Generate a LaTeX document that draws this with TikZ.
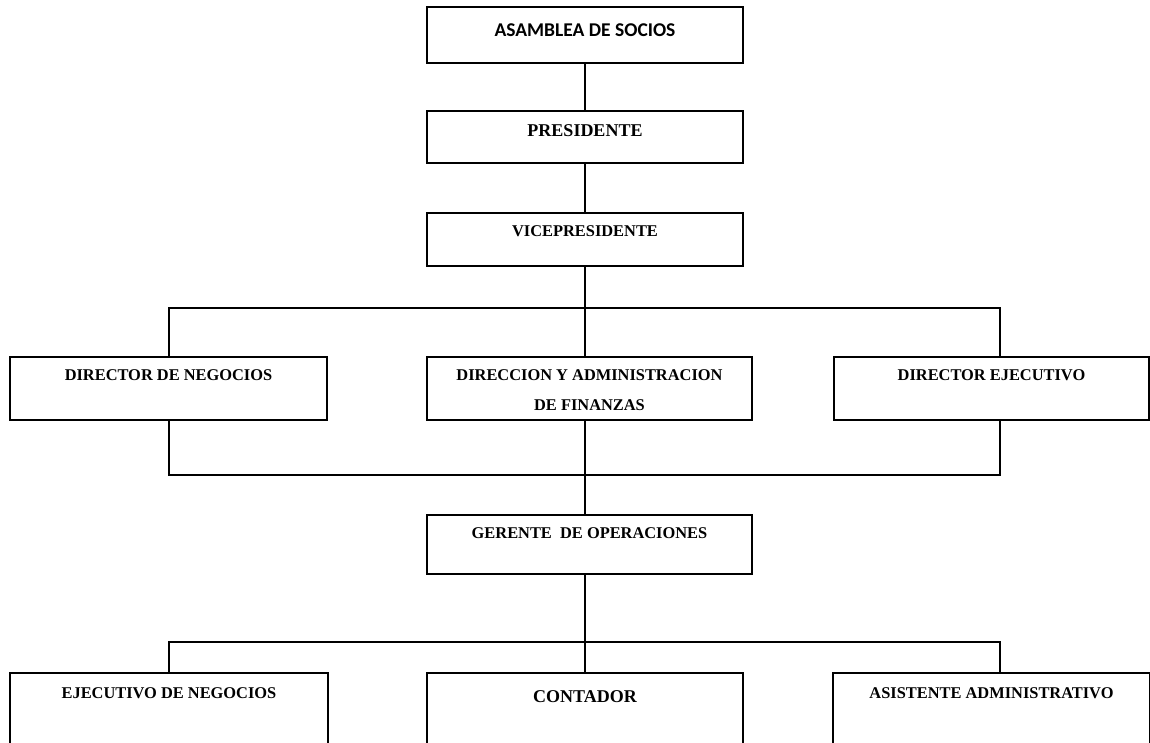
\documentclass[tikz,border=0pt]{standalone}
\usepackage{fontspec}
\setmainfont{Liberation Serif}
\newfontfamily\carlito{Carlito}
\usetikzlibrary{positioning,calc}

\tikzset{
  caja/.style={draw, line width=1.5pt, inner sep=0pt},
  titulo/.style={anchor=north, align=center, inner sep=0pt, font=\bfseries\fontsize{16.4}{30}\selectfont},
  linea/.style={line width=1.3pt}
}

\begin{document}
\begin{tikzpicture}[x=1pt,y=-1pt]
\useasboundingbox (0,0) rectangle (1150,742);

\node[caja, minimum width=316pt, minimum height=56pt,
  label={[titulo, yshift=-17pt, font=\carlito\bfseries\fontsize{19.5}{24}\selectfont]north:ASAMBLEA DE SOCIOS}] (asamblea) at (585,35) {};
\node[caja, minimum width=316pt, minimum height=52pt,
  label={[titulo, yshift=-14pt, font=\bfseries\fontsize{18}{24}\selectfont]north:PRESIDENTE}] (presidente) at (585,137) {};
\node[caja, minimum width=316pt, minimum height=53pt,
  label={[titulo, yshift=-13.5pt]north:VICEPRESIDENTE}] (vice) at (585,239.5) {};

\node[caja, minimum width=317pt, minimum height=63pt,
  label={[titulo, yshift=-13pt]north:DIRECTOR DE NEGOCIOS}] (negocios) at (168.5,388.5) {};
\node[caja, minimum width=325pt, minimum height=63pt,
  label={[titulo, yshift=-13pt]north:DIRECCION Y ADMINISTRACION\\DE FINANZAS}] (finanzas) at (589.5,388.5) {};
\node[caja, minimum width=315pt, minimum height=63pt,
  label={[titulo, yshift=-13pt]north:DIRECTOR EJECUTIVO}] (ejecutivo) at (991.5,388.5) {};

\node[caja, minimum width=325pt, minimum height=59pt,
  label={[titulo, yshift=-13pt]north:GERENTE\ \ DE OPERACIONES}] (gerente) at (589.5,544.5) {};

\node[caja, minimum width=318pt, minimum height=80pt,
  label={[titulo, yshift=-15pt]north:EJECUTIVO DE NEGOCIOS}] (ejnegocios) at (169,713) {};
\node[caja, minimum width=316pt, minimum height=80pt,
  label={[titulo, yshift=-18pt, font=\bfseries\fontsize{18}{24}\selectfont]north:CONTADOR}] (contador) at (585,713) {};
\node[caja, minimum width=317pt, minimum height=80pt,
  label={[titulo, yshift=-15pt]north:ASISTENTE ADMINISTRATIVO}] (asistente) at (991.5,713) {};

\coordinate (eje) at (585,0);
\coordinate (izq) at (169,0);
\coordinate (der) at (1000,0);

\draw[linea] (asamblea) -- (presidente);
\draw[linea] (presidente) -- (vice);

\draw[linea] (vice.south) -- (eje |- finanzas.north);
\draw[linea] (izq |- negocios.north) -- (izq |- 0,308) -- (der |- 0,308) -- (der |- ejecutivo.north);

\draw[linea] (eje |- finanzas.south) -- (eje |- gerente.north);
\draw[linea] (izq |- negocios.south) -- (izq |- 0,475) -- (der |- 0,475) -- (der |- ejecutivo.south);

\draw[linea] (eje |- gerente.south) -- (eje |- contador.north);
\draw[linea] (izq |- ejnegocios.north) -- (izq |- 0,642) -- (der |- 0,642) -- (der |- asistente.north);
\end{tikzpicture}
\end{document}
